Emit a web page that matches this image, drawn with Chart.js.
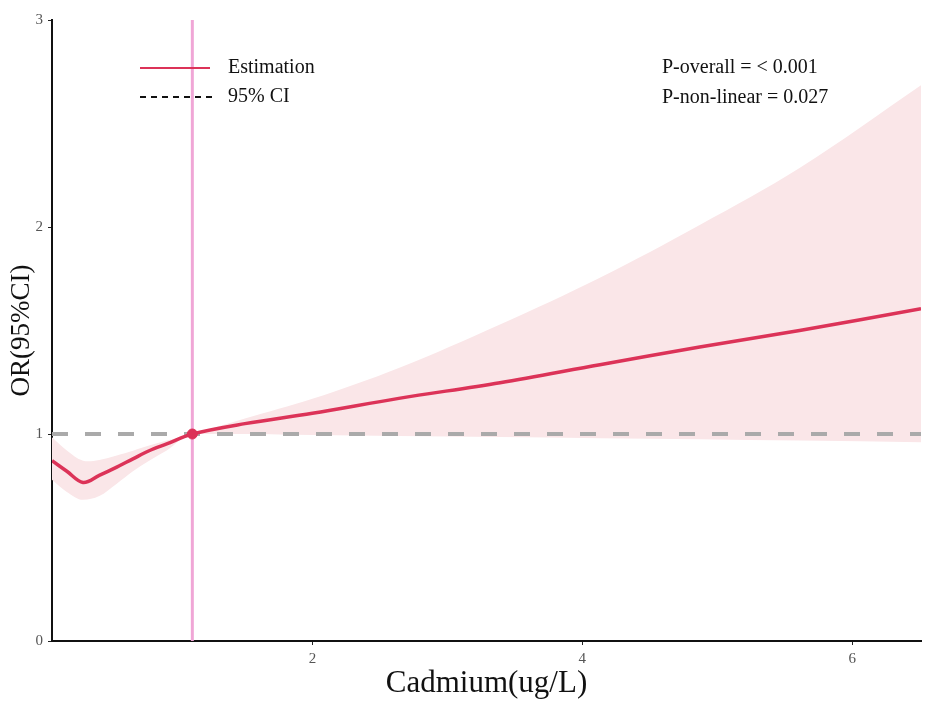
<!DOCTYPE html>
<html>
<head>
<meta charset="utf-8">
<script src="https://cdn.jsdelivr.net/npm/chart.js@4/dist/chart.umd.min.js"></script>
<style>
  html, body { margin: 0; padding: 0; background: #fff; }
  #wrap { width: 935px; height: 702px; }
</style>
</head>
<body>
<div id="wrap"><canvas id="myChart" width="935" height="702"></canvas></div>
<script>
// values
const cadmium  = [0.07, 0.18, 0.30, 0.42, 0.55, 0.67, 0.79, 0.92, 1.11, 1.50, 2.00, 2.64, 3.39, 4.13, 4.87, 5.61, 6.51];
const estimate = [0.871, 0.820, 0.766, 0.800, 0.840, 0.880, 0.919, 0.952, 1.000, 1.050, 1.100, 1.172, 1.248, 1.335, 1.420, 1.500, 1.605];
const upperCI  = [0.984, 0.920, 0.871, 0.875, 0.896, 0.919, 0.944, 0.968, 1.000, 1.075, 1.170, 1.319, 1.529, 1.755, 2.010, 2.285, 2.685];
const lowerCI  = [0.779, 0.720, 0.682, 0.700, 0.760, 0.820, 0.871, 0.920, 1.000, 1.000, 0.995, 0.990, 0.985, 0.980, 0.975, 0.968, 0.960];
const refX = 1.11;
const refY = 1;
const xTicks = [2, 4, 6];
const yTicks = [0, 1, 2, 3];
const xRange = [0.07, 6.51];
const yRange = [0, 3];

const serif = '"Liberation Serif", "DejaVu Serif", serif';
const red = '#dc3358';

function pts(ys) {
    return cadmium.map((x, i) => ({ x: x, y: ys[i] }));
}

// legend and p-values drawn on top of the chart
const notes = {
    id: 'notes',
    afterDraw(chart) {
        const c = chart.ctx;
        c.save();
        c.lineWidth = 2;
        c.strokeStyle = red;
        c.beginPath(); c.moveTo(140, 68); c.lineTo(210, 68); c.stroke();
        c.strokeStyle = '#111';
        c.setLineDash([6, 5]);
        c.beginPath(); c.moveTo(140, 97); c.lineTo(212, 97); c.stroke();
        c.setLineDash([]);
        c.fillStyle = '#111';
        c.font = '20px ' + serif;
        c.textBaseline = 'middle';
        c.textAlign = 'left';
        c.fillText('Estimation', 228, 68);
        c.fillText('95% CI', 228, 97);
        c.fillText('P-overall = < 0.001', 662, 68);
        c.fillText('P-non-linear = 0.027', 662, 98);
        c.restore();
    }
};

const ctx = document.getElementById('myChart').getContext('2d');

let myChart = new Chart(ctx, {
    type: 'line',
    data: {
        datasets: [
            {
                label: 'upper',
                data: pts(upperCI),
                borderWidth: 0,
                pointRadius: 0,
                backgroundColor: '#fae6e8',
                fill: '+1',
                tension: 0.35,
                order: 6
            },
            {
                label: 'lower',
                data: pts(lowerCI),
                borderWidth: 0,
                pointRadius: 0,
                fill: false,
                cubicInterpolationMode: 'monotone',
                order: 6
            },
            {
                label: 'reference',
                data: [{ x: xRange[0], y: refY }, { x: xRange[1], y: refY }],
                borderColor: '#aaaaaa',
                borderWidth: 4,
                borderDash: [16, 17],
                pointRadius: 0,
                fill: false,
                order: 5
            },
            {
                label: 'vline',
                data: [{ x: refX, y: yRange[0] }, { x: refX, y: yRange[1] }],
                borderColor: '#f0a6d6',
                borderWidth: 3,
                pointRadius: 0,
                fill: false,
                order: 4
            },
            {
                label: 'Estimation',
                data: pts(estimate),
                borderColor: red,
                borderWidth: 3.5,
                pointRadius: 0,
                fill: false,
                tension: 0.35,
                order: 2
            },
            {
                label: 'point',
                data: [{ x: refX, y: refY }],
                showLine: false,
                pointRadius: 5,
                pointBackgroundColor: red,
                pointBorderColor: red,
                order: 1
            }
        ]
    },
    options: {
        responsive: false,
        animation: false,
        layout: { padding: { top: 20, right: 14, left: 0, bottom: 0 } },
        plugins: {
            legend: { display: false },
            tooltip: { enabled: false }
        },
        scales: {
            x: {
                type: 'linear',
                min: xRange[0],
                max: xRange[1],
                afterBuildTicks: (scale) => { scale.ticks = xTicks.map(v => ({ value: v })); },
                afterFit: (scale) => { scale.height = 61; },
                border: { display: true, color: '#111', width: 2 },
                grid: { display: true, drawOnChartArea: false, drawTicks: true, tickLength: 4, color: '#222' },
                ticks: { color: '#555', padding: 5, font: { family: serif, size: 15 } },
                title: {
                    display: true,
                    text: 'Cadmium(ug/L)',
                    color: '#111',
                    font: { family: serif, size: 31 },
                    padding: { top: 0, bottom: 0 }
                }
            },
            y: {
                min: yRange[0],
                max: yRange[1],
                afterBuildTicks: (scale) => { scale.ticks = yTicks.map(v => ({ value: v })); },
                afterFit: (scale) => { scale.width = 52; },
                border: { display: true, color: '#111', width: 2 },
                grid: { display: true, drawOnChartArea: false, drawTicks: true, tickLength: 4, color: '#222' },
                ticks: { color: '#555', padding: 5, font: { family: serif, size: 15 } },
                title: {
                    display: true,
                    text: 'OR(95%CI)',
                    color: '#111',
                    font: { family: serif, size: 27 },
                    padding: { top: 6, bottom: 0 }
                }
            }
        }
    },
    plugins: [notes]
});
</script>
</body>
</html>
